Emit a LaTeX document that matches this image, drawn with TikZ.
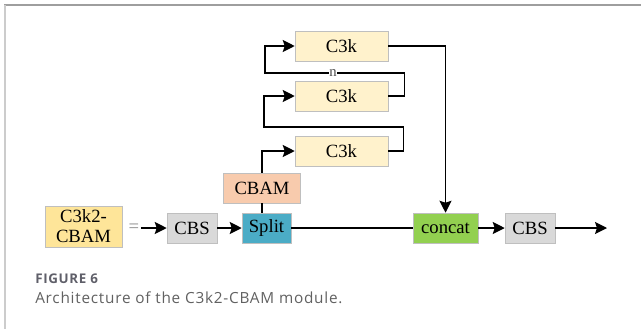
\documentclass[tikz,border=0pt]{standalone}
\usepackage{fontspec}
\setmainfont{Liberation Serif}
\newfontfamily\capfont[LetterSpace=5]{Open Sans}
\usetikzlibrary{arrows.meta}

\definecolor{inYellow}{RGB}{254,229,153}
\definecolor{cbsGray}{RGB}{217,217,217}
\definecolor{splitBlue}{RGB}{75,172,198}
\definecolor{cbamPeach}{RGB}{248,203,173}
\definecolor{cBoxYellow}{RGB}{255,242,204}
\definecolor{catGreen}{RGB}{146,208,80}
\definecolor{capGray}{RGB}{95,95,105}

\tikzset{
  blk/.style={draw=black!25, line width=0.4pt, inner sep=0pt, align=center,
              font=\fontsize{14}{15}\selectfont},
  flow/.style={line width=1.1pt, -{Stealth[length=9pt,width=9pt,inset=1.5pt]}},
  wire/.style={line width=1.1pt}
}

\begin{document}
\begin{tikzpicture}[x=0.75pt, y=-0.75pt]

    % --- Configuration ---
    \def\bh{22.5pt} % box height
    \def\cx{341.5} % column of the C3k blocks

    \useasboundingbox (0,0) rectangle (641,329);

    % --- Page frame ---
    \draw[line width=1.5pt, black!38] (4,4.5) -- (641,4.5);
    \draw[line width=1.5pt, black!20] (5,5) -- (5,329);

    % --- Main row ---
    \node[blk, fill=inYellow, minimum width=57.75pt, minimum height=30.75pt] (inp) at (83.5,226.5) {C3k2-\\CBAM};
    \node[font=\fontsize{14}{15}\selectfont, text=black!45, inner sep=1pt] (eq) at (134,228) {=};
    \node[blk, fill=cbsGray, minimum width=37.5pt, minimum height=\bh] (cbsA) at (192,228) {CBS};
    \node[blk, fill=splitBlue, minimum width=36.75pt, minimum height=\bh] (split) at (266.5,228) {Split};
    \node[blk, fill=catGreen, minimum width=48.75pt, minimum height=\bh] (concat) at (445.5,228) {concat};
    \node[blk, fill=cbsGray, minimum width=37.5pt, minimum height=\bh] (cbsB) at (530,228) {CBS};
    \coordinate (out) at (607,228);

    % --- Attention and bottleneck stack ---
    \node[blk, fill=cbamPeach, minimum width=57.75pt, minimum height=\bh] (cbam) at (262,188) {CBAM};
    \node[blk, fill=cBoxYellow, minimum width=69.75pt, minimum height=\bh] (c3kA) at (\cx,151) {C3k};
    \node[blk, fill=cBoxYellow, minimum width=69.75pt, minimum height=\bh] (c3kB) at (\cx,96) {C3k};
    \node[blk, fill=cBoxYellow, minimum width=69.75pt, minimum height=\bh] (c3kC) at (\cx,46) {C3k};

    % --- Connectors ---
    \draw[flow] (eq.east) -- (cbsA.west);
    \draw[flow] (cbsA.east) -- (split.west);
    \draw[wire] (split.east) -- (concat.west);
    \draw[flow] (concat.east) -- (cbsB.west);
    \draw[flow] (cbsB.east) -- (out);

    \draw[wire] (cbam.south) -- (cbam.south |- split.north);
    \draw[flow] (cbam.north) |- (c3kA.west);
    \draw[flow] (c3kA.east) -- ++(15,0) |- (264,127) |- (c3kB.west);
    \draw[flow] (c3kB.east) -- ++(16,0) |- (265,73) |- (c3kC.west);
    \draw[flow] (c3kC.east) -| (concat.north);

    % repeat count
    \node[fill=white, inner sep=0.5pt, font=\fontsize{11}{11}\selectfont, text=black!70] (rep) at (333,73) {n};

    % --- Caption ---
    \node[anchor=base west, inner sep=0pt, text=capGray, font=\capfont\bfseries\fontsize{10}{11}\selectfont] (fig) at (35,283) {FIGURE 6};
    \node[anchor=base west, inner sep=0pt, text=black!62, font=\capfont\fontsize{11.5}{13}\selectfont] (cap) at (35,303) {Architecture of the C3k2-CBAM module.};

\end{tikzpicture}
\end{document}
